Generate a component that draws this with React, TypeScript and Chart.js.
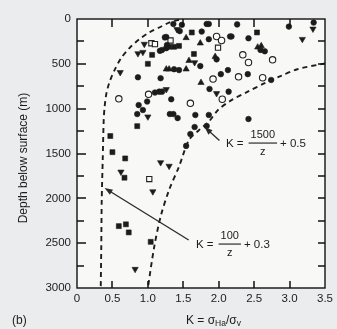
import React, { useEffect, useRef } from "react";
import { Chart, registerables } from "chart.js";

Chart.register(...registerables);

// ---- Data (K = sigma_Ha / sigma_v, depth z in metres) ----
const filledCircleK = [1.36, 1.48, 1.45, 1.76, 1.83, 1.24, 1.27, 1.26, 1.17, 1.2, 1.74, 1.37, 1.44, 0.86, 1.18, 1.1, 1.16, 1.2, 1.33, 0.99, 0.87, 0.93, 0.85, 1.31, 1.36, 1.42, 1.67, 1.66, 1.6, 1.54, 1.86, 2.26, 2.99, 3.34, 1.86, 2.16, 2.18, 2.42, 2.59, 2.65, 1.97, 2.13, 2.03, 2.41, 2.74, 1.87, 2.14, 1.86, 2.42, 1.83, 1.26];
const filledCircleZ = [55, 65, 135, 140, 55, 205, 290, 325, 355, 345, 525, 560, 570, 650, 660, 820, 810, 810, 895, 920, 960, 1015, 1060, 1060, 1060, 1105, 1070, 1205, 1283, 1415, 55, 60, 85, 40, 225, 195, 195, 215, 345, 360, 450, 570, 615, 615, 680, 780, 810, 1070, 1115, 1193, 200];

const openCircleK = [1.01, 0.59, 1.6, 1.97, 2.04, 2.34, 2.42, 2.76, 1.92, 2.28, 2.62, 2.05];
const openCircleZ = [840, 890, 940, 195, 240, 400, 485, 455, 670, 645, 655, 895];

const filledSquareK = [1.62, 1.3, 1.37, 1.44, 1.06, 1.0, 1.65, 2.54, 0.85, 0.47, 0.5, 0.68, 0.67, 0.59, 0.69, 0.73, 1.04];
const filledSquareZ = [150, 310, 310, 300, 400, 500, 390, 150, 1195, 1305, 1485, 1555, 1770, 2310, 2290, 2380, 2485];

const openSquareK = [1.05, 1.1, 1.32, 1.99, 1.02];
const openSquareZ = [270, 280, 240, 320, 1785];

const triDownK = [1.41, 0.95, 0.86, 0.93, 1.66, 0.61, 1.26, 1.0, 3.33, 3.18, 1.97, 1.18, 1.3, 0.62, 1.07, 0.82];
const triDownZ = [115, 280, 385, 370, 485, 595, 785, 1090, 110, 225, 830, 1600, 1640, 1705, 1925, 2790];

const triUpK = [1.54, 1.74, 1.58, 1.26, 1.3, 1.54, 1.75, 2.55, 2.6, 1.95];
const triUpZ = [210, 270, 465, 560, 560, 560, 710, 315, 300, 420];

// Envelope curves as drawn in the figure
const curveLowK = [1.44, 1.3, 1.16, 1.02, 0.88, 0.74, 0.62, 0.53, 0.46, 0.415, 0.39, 0.377, 0.363, 0.349, 0.342, 0.335];
const curveLowZ = [10, 40, 95, 150, 225, 325, 440, 570, 700, 830, 980, 1125, 1570, 2020, 2575, 3000];

const curveHighK = [3.5, 3.11, 2.88, 2.65, 2.41, 2.18, 1.99, 1.86, 1.72, 1.58, 1.44, 1.3, 1.18, 1.09, 1.0];
const curveHighZ = [495, 560, 635, 715, 810, 905, 1015, 1145, 1240, 1350, 1645, 1905, 2205, 2540, 3000];

const xTickValues = [0.5, 1.0, 1.5, 2.0, 2.5, 3.0];
const yTickValues = [250, 500, 750, 1000, 1250, 1500, 1750, 2000, 2250, 2500, 2750];

const yTitle = "Depth below surface (m)";
const panelLabel = "(b)";

const FONT = '"Liberation Sans", Arial, Helvetica, sans-serif';
const INK = "#1c1c1c";

const pts = (k: number[], z: number[]) => k.map((v, i) => ({ x: v, y: z[i] }));

export default function App() {
  const ref = useRef<HTMLCanvasElement | null>(null);

  useEffect(() => {
    const canvas = ref.current;
    if (!canvas) return;

    const deco = {
      id: "deco",
      beforeDraw(chart: any) {
        const { ctx, chartArea: a } = chart;
        ctx.save();
        ctx.fillStyle = "#eaecee";
        ctx.fillRect(0, 0, chart.width, chart.height);
        ctx.fillStyle = "#f8f8f7";
        ctx.fillRect(a.left, a.top, a.right - a.left, a.bottom - a.top);
        ctx.restore();
      },
      afterDraw(chart: any) {
        const { ctx, chartArea: a, scales } = chart;
        const xs = scales.x;
        const ys = scales.y;
        ctx.save();
        ctx.setLineDash([]);
        ctx.strokeStyle = "#111";
        ctx.lineWidth = 1.4;
        ctx.strokeRect(a.left, a.top, a.right - a.left, a.bottom - a.top);

        // inward ticks
        ctx.lineWidth = 1.5;
        yTickValues.forEach((v) => {
          const y = Math.round(ys.getPixelForValue(v));
          const major = v % 500 === 0;
          ctx.beginPath();
          ctx.moveTo(a.left, y);
          ctx.lineTo(a.left + (major ? 9 : 7), y);
          ctx.moveTo(a.right, y);
          ctx.lineTo(a.right - 7, y);
          ctx.stroke();
        });
        xTickValues.forEach((v) => {
          const x = Math.round(xs.getPixelForValue(v));
          ctx.beginPath();
          ctx.moveTo(x, a.top);
          ctx.lineTo(x, a.top + 8);
          ctx.moveTo(x, a.bottom);
          ctx.lineTo(x, a.bottom - 7);
          ctx.stroke();
        });

        // arrows
        const arrow = (k1: number, z1: number, k2: number, z2: number) => {
          const x1 = xs.getPixelForValue(k1);
          const y1 = ys.getPixelForValue(z1);
          const x2 = xs.getPixelForValue(k2);
          const y2 = ys.getPixelForValue(z2);
          const ang = Math.atan2(y2 - y1, x2 - x1);
          const L = 8;
          const W = 3;
          ctx.strokeStyle = "#2a2a2a";
          ctx.lineWidth = 1.3;
          ctx.beginPath();
          ctx.moveTo(x1, y1);
          ctx.lineTo(x2 - Math.cos(ang) * L * 0.7, y2 - Math.sin(ang) * L * 0.7);
          ctx.stroke();
          ctx.fillStyle = "#2a2a2a";
          ctx.beginPath();
          ctx.moveTo(x2, y2);
          ctx.lineTo(x2 - Math.cos(ang) * L + Math.sin(ang) * W, y2 - Math.sin(ang) * L - Math.cos(ang) * W);
          ctx.lineTo(x2 - Math.cos(ang) * L - Math.sin(ang) * W, y2 - Math.sin(ang) * L + Math.cos(ang) * W);
          ctx.closePath();
          ctx.fill();
        };
        arrow(1.576, 2465, 0.39, 1885);
        arrow(2.01, 1355, 1.8, 1205);

        // formula labels
        ctx.fillStyle = INK;
        ctx.textBaseline = "middle";
        const formula = (xLeft: number, yMid: number, num: string, tail: string) => {
          ctx.font = `11.5px ${FONT}`;
          ctx.textAlign = "left";
          ctx.fillText("K =", xLeft, yMid + 0.5);
          const kw = ctx.measureText("K =").width;
          ctx.font = `11px ${FONT}`;
          const nw = ctx.measureText(num).width;
          const barL = xLeft + kw + 5;
          const barW = nw + 4;
          const cx = barL + barW / 2;
          ctx.textAlign = "center";
          ctx.fillText(num, cx, yMid - 8);
          ctx.fillText("z", cx, yMid + 9);
          ctx.fillRect(barL, yMid - 0.5, barW, 1.1);
          ctx.font = `11.5px ${FONT}`;
          ctx.textAlign = "left";
          ctx.fillText(tail, barL + barW + 3, yMid + 0.5);
        };
        formula(226, 143, "1500", "+ 0.5");
        formula(196, 244, "100", "+ 0.3");

        // y title
        ctx.font = `12px ${FONT}`;
        ctx.textAlign = "center";
        ctx.save();
        ctx.translate(24, 158);
        ctx.rotate(-Math.PI / 2);
        ctx.fillText(yTitle, 0, 0);
        ctx.restore();

        // panel label
        ctx.textAlign = "left";
        ctx.fillText(panelLabel, 12, 321);

        // x title: K = σHa/σv
        let x = 186;
        const yb = 321;
        const part = (t: string, size: number, dy: number) => {
          ctx.font = `${size}px ${FONT}`;
          ctx.fillText(t, x, yb + dy);
          x += ctx.measureText(t).width;
        };
        part("K = σ", 12, 0);
        part("Ha", 8.5, 3);
        part("/σ", 12, 0);
        part("v", 8.5, 3);
        ctx.restore();
      },
    };

    const filled = (k: number[], z: number[], style: string, r: number, rot = 0) => ({
      data: pts(k, z),
      pointStyle: style,
      rotation: rot,
      pointRadius: r,
      backgroundColor: INK,
      borderColor: INK,
      borderWidth: 0.6,
      showLine: false,
    });
    const open = (k: number[], z: number[], style: string, r: number) => ({
      data: pts(k, z),
      pointStyle: style,
      pointRadius: r,
      backgroundColor: "#fbfbfb",
      borderColor: "#222",
      borderWidth: 1.1,
      showLine: false,
    });
    const curve = (k: number[], z: number[]) => ({
      data: pts(k, z),
      showLine: true,
      pointRadius: 0,
      borderColor: "#1e1e1e",
      borderWidth: 1.9,
      borderDash: [5, 4],
      tension: 0.3,
      fill: false,
    });

    const chart = new Chart(canvas, {
      type: "scatter",
      data: {
        datasets: [
          curve(curveLowK, curveLowZ),
          curve(curveHighK, curveHighZ),
          filled(filledCircleK, filledCircleZ, "circle", 2.8),
          open(openCircleK, openCircleZ, "circle", 3.2),
          filled(filledSquareK, filledSquareZ, "rect", 3.5),
          open(openSquareK, openSquareZ, "rect", 3.7),
          filled(triDownK, triDownZ, "triangle", 3.6, 180),
          filled(triUpK, triUpZ, "triangle", 3.6, 0),
        ] as any,
      },
      options: {
        animation: false,
        responsive: false,
        maintainAspectRatio: false,
        layout: { padding: { left: 0, right: 9, top: 19, bottom: 0 } },
        plugins: { legend: { display: false }, tooltip: { enabled: false } },
        scales: {
          x: {
            type: "linear",
            min: 0,
            max: 3.5,
            grid: { display: false, drawTicks: false },
            border: { display: false },
            ticks: {
              stepSize: 0.5,
              padding: 4,
              color: INK,
              font: { family: FONT, size: 11.5 },
              callback: (v: any) => (Number(v) === 0 ? "0" : Number(v).toFixed(1)),
            },
            afterFit: (s: any) => {
              s.height = 41;
            },
          },
          y: {
            type: "linear",
            reverse: true,
            min: 0,
            max: 3000,
            grid: { display: false, drawTicks: false },
            border: { display: false },
            ticks: {
              stepSize: 500,
              padding: 6,
              color: INK,
              font: { family: FONT, size: 11.5 },
              callback: (v: any) => String(Number(v)),
            },
            afterFit: (s: any) => {
              s.width = 77;
            },
          },
        },
      } as any,
      plugins: [deco],
    });

    return () => chart.destroy();
  }, []);

  return (
    <div style={{ position: "fixed", left: 0, top: 0, width: 337, height: 329 }}>
      <canvas ref={ref} width={337} height={329} style={{ display: "block", width: 337, height: 329 }} />
    </div>
  );
}
